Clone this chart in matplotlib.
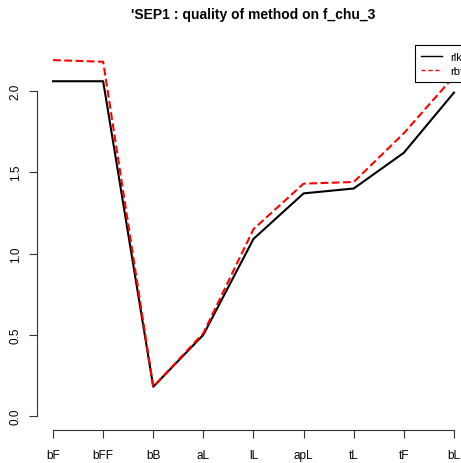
import matplotlib.pyplot as plt
from matplotlib.lines import Line2D

plt.rcParams['font.family'] = ['Liberation Sans', 'DejaVu Sans']

methods = ['bF', 'bFF', 'bB', 'aL', 'lL', 'apL', 'tL', 'tF', 'bL']
rlk = [2.06, 2.06, 0.18, 0.50, 1.09, 1.37, 1.40, 1.62, 1.99]
rbf = [2.19, 2.18, 0.18, 0.51, 1.15, 1.43, 1.44, 1.74, 2.09]
series_names = ['rlk', 'rbf']

W, H = 461, 464
fig = plt.figure(figsize=(W / 100, H / 100), dpi=100)
# plot region runs past the right edge, like the R device it came from
ax = fig.add_axes([37 / W, 1 - 431 / H, 433 / W, 385 / H])

x = list(range(1, len(methods) + 1))
ax.plot(x, rlk, color='black', lw=1.5)
ax.plot(x, rbf, color='red', lw=1.5, dashes=(3.7, 1.7))

ax.set_xlim(0.68, 9.32)
ax.set_ylim(-0.086, 2.283)

ax.set_xticks(x)
ax.set_xticklabels(methods)
ax.set_yticks([0.0, 0.5, 1.0, 1.5, 2.0])
ax.set_yticklabels(['0.0', '0.5', '1.0', '1.5', '2.0'], rotation=90, va='center')

for s in ['top', 'right']:
    ax.spines[s].set_visible(False)
ax.spines['left'].set_bounds(0, 2)
ax.spines['bottom'].set_bounds(1, 9)
for s in ['left', 'bottom']:
    ax.spines[s].set_color('#333333')
    ax.spines[s].set_linewidth(0.8)

ax.tick_params(axis='x', length=6, width=0.8, color='#333333', pad=8, labelsize=8.5)
ax.tick_params(axis='y', length=6, width=0.8, color='#333333', pad=5, labelsize=8.5)

handles = [Line2D([], [], color='black', lw=1),
           Line2D([], [], color='red', lw=1, dashes=(3, 2))]
leg = ax.legend(handles, series_names, loc='upper right', bbox_to_anchor=(1, 1),
                borderaxespad=0, fontsize=8, fancybox=False, framealpha=1,
                edgecolor='black', handlelength=1.9, handletextpad=0.7,
                borderpad=0.6, labelspacing=0.35)
leg.get_frame().set_linewidth(0.8)

fig.text(253 / W, 1 - 15 / H, "'SEP1 : quality of method on f_chu_3",
         ha='center', va='center', fontsize=10, fontweight='bold')

fig.savefig('out.png', dpi=100)
